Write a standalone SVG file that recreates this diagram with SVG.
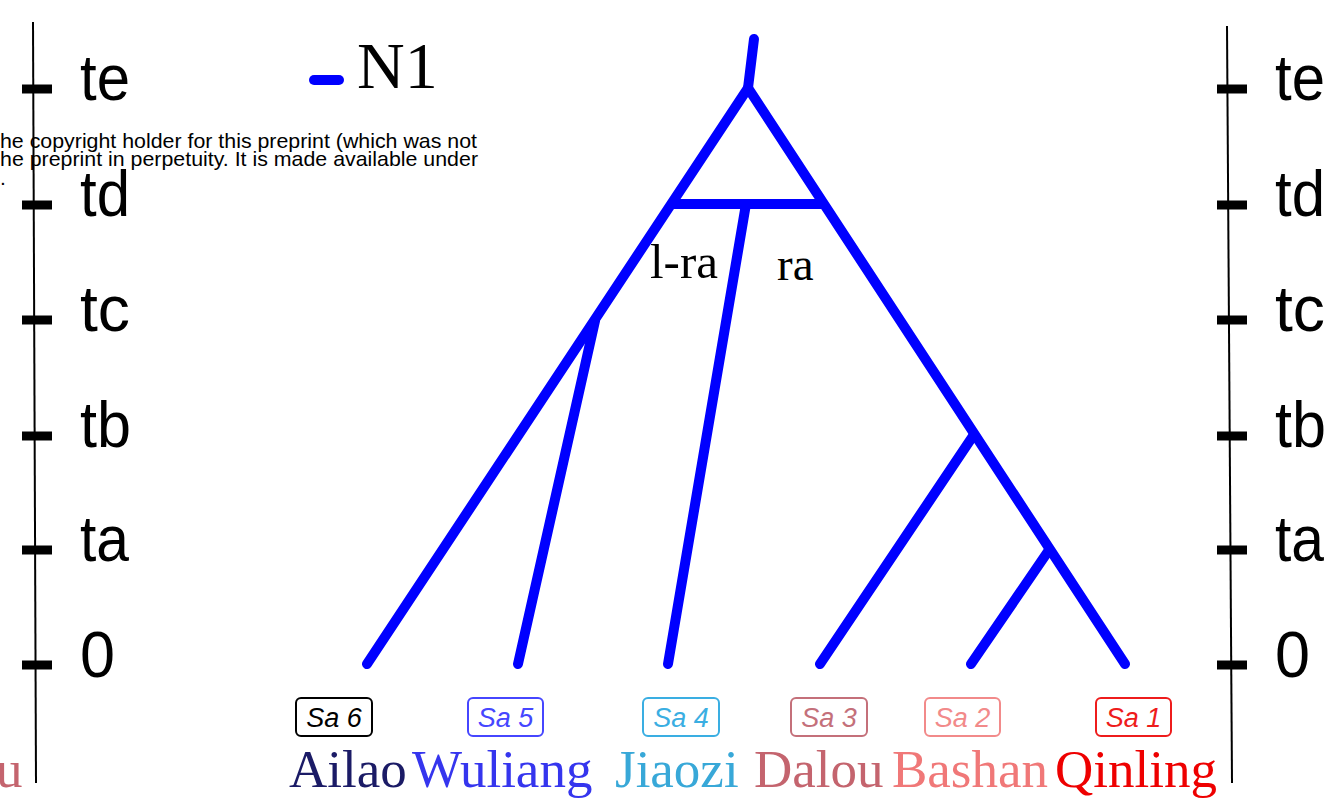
<svg xmlns="http://www.w3.org/2000/svg" width="1325" height="800" viewBox="0 0 1325 800">
<style>
.axis{stroke:#000;stroke-width:2;fill:none}
.tick{stroke:#000;stroke-width:9}
.alab{font-family:"Liberation Sans",Arial,sans-serif;font-size:64px;fill:#000}
.br{stroke:#0000ff;stroke-width:10;stroke-linecap:round;stroke-linejoin:round;fill:none}
.ser{font-family:"Liberation Serif","Times New Roman",serif}
.box{fill:none;stroke-width:2}
.sa{font-family:"Liberation Sans",Arial,sans-serif;font-style:italic;font-size:27px;text-anchor:middle}
.nm{font-family:"Liberation Serif","Times New Roman",serif;font-size:53px}
.cp{font-family:"Liberation Sans",Arial,sans-serif;font-size:21px;fill:#000}
</style>
<rect width="1325" height="800" fill="#fff"/>
<g id="copyright">
<text class="cp" x="0" y="148" textLength="477" lengthAdjust="spacingAndGlyphs">he copyright holder for this preprint (which was not</text>
<text class="cp" x="0" y="166" textLength="478" lengthAdjust="spacingAndGlyphs">he preprint in perpetuity. It is made available under</text>
<text class="cp" x="0" y="185">.</text>
</g>
<g id="left-axis">
<line class="axis" x1="33" y1="22" x2="36" y2="783"/>
<line class="tick" x1="22" y1="89" x2="52" y2="89"/>
<line class="tick" x1="22" y1="205" x2="52" y2="205"/>
<line class="tick" x1="22" y1="320" x2="52" y2="320"/>
<line class="tick" x1="22" y1="436" x2="52" y2="436"/>
<line class="tick" x1="22" y1="550" x2="52" y2="550"/>
<line class="tick" x1="22" y1="665" x2="52" y2="665"/>
<text class="alab" x="80" y="100" textLength="50" lengthAdjust="spacingAndGlyphs">te</text>
<text class="alab" x="80" y="216" textLength="50" lengthAdjust="spacingAndGlyphs">td</text>
<text class="alab" x="80" y="331" textLength="50" lengthAdjust="spacingAndGlyphs">tc</text>
<text class="alab" x="80" y="447" textLength="51" lengthAdjust="spacingAndGlyphs">tb</text>
<text class="alab" x="80" y="561" textLength="49" lengthAdjust="spacingAndGlyphs">ta</text>
<text class="alab" x="80" y="677" textLength="35" lengthAdjust="spacingAndGlyphs">0</text>
</g>
<g id="right-axis">
<line class="axis" x1="1227" y1="26" x2="1232" y2="783"/>
<line class="tick" x1="1217" y1="89" x2="1247" y2="89"/>
<line class="tick" x1="1217" y1="205" x2="1247" y2="205"/>
<line class="tick" x1="1217" y1="320" x2="1247" y2="320"/>
<line class="tick" x1="1217" y1="436" x2="1247" y2="436"/>
<line class="tick" x1="1217" y1="550" x2="1247" y2="550"/>
<line class="tick" x1="1217" y1="665" x2="1247" y2="665"/>
<text class="alab" x="1275" y="100" textLength="50" lengthAdjust="spacingAndGlyphs">te</text>
<text class="alab" x="1275" y="216" textLength="50" lengthAdjust="spacingAndGlyphs">td</text>
<text class="alab" x="1275" y="331" textLength="50" lengthAdjust="spacingAndGlyphs">tc</text>
<text class="alab" x="1275" y="447" textLength="51" lengthAdjust="spacingAndGlyphs">tb</text>
<text class="alab" x="1275" y="561" textLength="49" lengthAdjust="spacingAndGlyphs">ta</text>
<text class="alab" x="1275" y="677" textLength="35" lengthAdjust="spacingAndGlyphs">0</text>
</g>
<g id="legend">
<line class="br" x1="314" y1="80" x2="339" y2="80"/>
<text class="ser" x="357" y="88" font-size="66" fill="#000">N1</text>
</g>
<g id="connectors">
<polyline class="br" points="754,39 748,88"/>
<polyline class="br" points="367,664 748,88 1125,664"/>
<line class="br" x1="672" y1="204" x2="822" y2="204"/>
<line class="br" x1="746" y1="204" x2="668" y2="664"/>
<line class="br" x1="595" y1="321" x2="518" y2="664"/>
<line class="br" x1="973" y1="436" x2="820" y2="664"/>
<line class="br" x1="1049" y1="550" x2="971" y2="664"/>
</g>
<g id="branch-labels">
<text class="ser" x="650" y="278" font-size="49" fill="#000">l-ra</text>
<text class="ser" x="777" y="280" font-size="47" fill="#000">ra</text>
</g>
<g id="sa6"><rect class="box" x="296" y="698" width="76" height="38" rx="5" stroke="#000"/><text class="sa" x="334" y="727" fill="#000">Sa 6</text></g>
<g id="sa5"><rect class="box" x="468" y="698" width="75" height="38" rx="5" stroke="#4646ff"/><text class="sa" x="505.5" y="727" fill="#4646ff">Sa 5</text></g>
<g id="sa4"><rect class="box" x="643" y="698" width="76" height="38" rx="5" stroke="#3aaee2"/><text class="sa" x="681" y="727" fill="#3aaee2">Sa 4</text></g>
<g id="sa3"><rect class="box" x="791" y="698" width="76" height="38" rx="5" stroke="#c4707a"/><text class="sa" x="829" y="727" fill="#c4707a">Sa 3</text></g>
<g id="sa2"><rect class="box" x="925" y="698" width="75" height="38" rx="5" stroke="#f28a8a"/><text class="sa" x="962.5" y="727" fill="#f28a8a">Sa 2</text></g>
<g id="sa1"><rect class="box" x="1096" y="698" width="75" height="38" rx="5" stroke="#ee1c1c"/><text class="sa" x="1133.5" y="727" fill="#ee1c1c">Sa 1</text></g>
<g id="names">
<text class="nm" x="289" y="787" fill="#1b1b66">Ailao</text>
<text class="nm" x="412" y="787" fill="#3535ee">Wuliang</text>
<text class="nm" x="615" y="787" fill="#38a8d8">Jiaozi</text>
<text class="nm" x="754" y="787" fill="#c4646e">Dalou</text>
<text class="nm" x="892" y="787" fill="#f07878">Bashan</text>
<text class="nm" x="1055" y="787" fill="#ee0000">Qinling</text>
<text class="nm" x="-4" y="787" fill="#c4646e">u</text>
</g>
</svg>
